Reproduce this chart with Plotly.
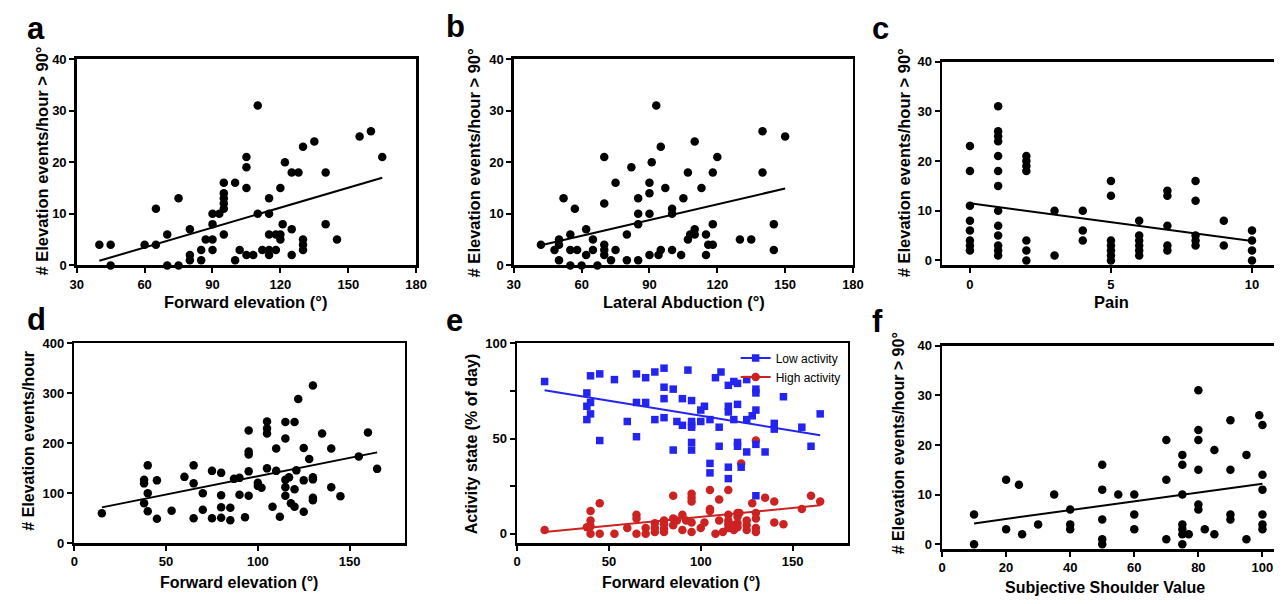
import plotly.graph_objects as go

W, H = 1285, 604

# ---------------- Panel a : Forward elevation vs events > 90 deg ----------------
a_x = [40, 45, 45, 60, 65, 65, 70, 70, 75, 75, 80, 80, 80, 85, 85, 87, 90, 90, 90, 90, 93,
       95, 95, 95, 95, 95, 95, 100, 100, 102, 105, 105, 105, 105, 108, 110, 110, 112,
       115, 115, 115, 115, 115, 118, 118, 120, 120, 120, 121, 122, 125, 128, 125, 125,
       130, 130, 130, 130, 135, 140, 140, 145, 155, 160, 165]
a_y = [4, 4, 0, 4, 4, 11, 6, 0, 13, 0, 7, 2, 1, 3, 1, 5, 10, 8, 5, 3, 10,
       16, 14, 13, 12, 11, 6, 16, 1, 3, 21, 19, 15, 2, 2, 31, 10, 3,
       13, 10, 6, 3, 2, 6, 3, 15, 6, 5, 8, 20, 18, 18, 7, 2,
       23, 5, 4, 3, 24, 18, 8, 5, 25, 26, 21]
a_fit_x = [40, 165]
a_fit_y = [0.9, 17.0]

# ---------------- Panel b : Lateral abduction ----------------
b_x = [42, 48, 50, 50, 50, 52, 55, 55, 55, 57, 58, 60, 62, 62, 65, 65, 67, 70, 70, 70, 70, 70,
       73, 75, 75, 80, 80, 82, 85, 85, 85, 85, 90, 90, 90, 90, 91, 93, 94, 95, 95, 97,
       100, 100, 100, 104, 105, 107, 107, 108, 110, 110, 110, 113, 115, 115, 116, 118,
       118, 118, 120, 130, 135, 140, 140, 145, 145, 150]
b_y = [4, 3, 5, 4, 1, 13, 6, 3, 0, 11, 3, 0, 7, 2, 5, 3, 0, 21, 12, 4, 3, 2,
       1, 16, 3, 6, 1, 19, 13, 10, 8, 1, 16, 14, 10, 2, 20, 31, 2, 23, 3, 15,
       11, 10, 3, 2, 13, 18, 5, 6, 24, 7, 6, 15, 6, 2, 4, 4,
       18, 8, 21, 5, 5, 26, 18, 8, 3, 25]
b_fit_x = [42, 150]
b_fit_y = [3.9, 14.9]

# ---------------- Panel c : Pain ----------------
c_x = [0] * 8 + [1] * 13 + [2] * 7 + [3] * 2 + [4] * 3 + [5] * 7 + [6] * 6 + [7] * 5 + [8] * 5 + [9] * 2 + [10] * 4
c_y = [23, 18, 11, 8, 6, 4, 3, 2,
       31, 26, 25, 24, 21, 18, 15, 10, 7, 5, 3, 2, 1,
       21, 20, 19, 18, 4, 2, 0,
       10, 1,
       10, 6, 4,
       16, 13, 4, 3, 2, 1, 0,
       8, 5, 4, 3, 2, 1,
       14, 13, 7, 3, 2,
       16, 12, 5, 4, 3,
       8, 3,
       6, 4, 2, 0]
c_fit_x = [0, 10]
c_fit_y = [11.5, 3.9]

# ---------------- Panel d : Forward elevation vs all events ----------------
d_x = [15, 38, 38, 38, 40, 40, 40, 45, 45, 53, 60, 65, 65, 65, 70, 70, 75, 75, 80, 80, 80, 80,
       85, 85, 87, 90, 90, 93, 95, 95, 95, 95, 95, 100, 100, 102, 105, 105, 105, 105, 108,
       110, 110, 112, 115, 115, 115, 115, 115, 117, 118, 120, 120, 120, 121, 122, 125, 125,
       125, 128, 130, 130, 130, 130, 130, 135, 140, 140, 145, 155, 160, 165]
d_y = [60, 80, 127, 120, 156, 100, 64, 126, 49, 65, 133, 156, 120, 50, 100, 67, 145, 50, 141, 96, 72, 51,
       71, 46, 129, 131, 97, 52, 226, 184, 178, 144, 95, 121, 115, 111, 244, 230, 220, 150, 73,
       190, 145, 53, 243, 210, 127, 112, 95, 132, 80, 73, 243, 108, 146, 289, 191, 126,
       63, 169, 316, 132, 128, 91, 86, 220, 190, 112, 94, 174, 222, 149]
d_fit_x = [15, 165]
d_fit_y = [72, 182]

# ---------------- Panel e : Activity state ----------------
e_low_x = [15, 38, 38, 38, 40, 40, 40, 45, 45, 53, 60, 65, 65, 65, 70, 70, 75, 75, 80, 80, 80, 80,
           85, 85, 87, 90, 90, 93, 95, 95, 95, 95, 95, 95, 100, 102, 100, 105, 105, 105, 108,
           110, 110, 111, 115, 115, 115, 115, 115, 118, 118, 120, 120, 120, 120, 122, 125, 125,
           125, 128, 130, 130, 130, 130, 130, 135, 140, 140, 145, 155, 160, 165]
e_low_y = [80, 74, 67, 60, 83, 69, 63, 84, 49, 81, 59, 84, 69, 51, 82, 69, 85, 60, 87, 77, 71, 61,
           76, 44, 59, 71, 57, 86, 70, 59, 57, 56, 48, 44, 65, 67, 59, 60, 37, 32, 82,
           56, 46, 85, 78, 67, 64, 35, 29, 80, 60, 79, 68, 48, 46, 35, 81, 60,
           43, 62, 76, 74, 65, 47, 20, 43, 58, 55, 72, 56, 46, 63]
e_high_x = [15, 38, 40, 40, 40, 40, 45, 45, 53, 60, 65, 65, 65, 70, 70, 75, 75, 75, 80, 80, 80, 80,
            85, 85, 85, 87, 90, 90, 92, 95, 95, 95, 95, 95, 100, 102, 105, 105, 105, 108, 110,
            110, 112, 115, 115, 115, 115, 115, 118, 118, 120, 120, 120, 120, 121, 122, 125, 125,
            125, 128, 130, 130, 130, 130, 130, 135, 140, 140, 145, 155, 160, 165]
e_high_y = [2, 3.5, 12, 7, 4, 0, 16, 0, 0, 3, 10, 8, 0, 3, 0, 5.5, 3, 1, 7, 5, 2.5, 1,
            20, 8, 4.5, 7, 10, 2, 7, 21, 19, 17, 6, 1, 3, 6, 23, 13, 12, 0, 18,
            7, 1, 23, 10, 7, 5, 3, 4.5, 2, 11, 9, 5.5, 3.5, 11, 37, 7, 4.5,
            2, 16, 49, 11, 8, 3, 1, 19, 17, 6, 5, 13, 20, 17]
e_low_fit_x = [15, 165]
e_low_fit_y = [75.4, 51.8]
e_high_fit_x = [15, 165]
e_high_fit_y = [1.0, 15.0]

# ---------------- Panel f : Subjective Shoulder Value ----------------
f_x = [10, 10, 20, 20, 24, 25, 30, 35, 40, 40, 40, 50, 50, 50, 50, 50, 55, 60, 60, 60,
       70, 70, 70, 75, 75, 75, 75, 75, 75, 75, 77, 80, 80, 80, 80, 80, 80, 82, 85, 85,
       90, 90, 90, 90, 95, 95, 99, 100, 100, 100, 100, 100, 100]
f_y = [6, 0, 13, 3, 12, 2, 4, 10, 7, 4, 3, 16, 11, 5, 1, 0, 10, 10, 6, 3,
       21, 13, 1, 18, 16, 10, 4, 3, 2, 0, 2, 31, 23, 21, 15, 8, 7, 3, 19, 2,
       25, 15, 6, 5, 18, 1, 26, 24, 14, 11, 6, 4, 3]
f_fit_x = [10, 100]
f_fit_y = [4.2, 12.2]

BLUE = "#2424f0"
RED = "#cc2222"
FONT = "Liberation Sans"


def px_x(p):
    return p / W


def px_y(p):
    return 1 - p / H


fig = go.Figure()

# panel geometry (pixels) and axis settings
panels = {
    1: dict(x0=70.7, x1=415, y0=53.3, y1=265, xr=[30, 180], yr=[0, 40],
            xt=[30, 60, 90, 120, 150, 180], yt=[0, 10, 20, 30, 40], ymirror=True),
    2: dict(x0=514, x1=858, y0=53.3, y1=265, xr=[30, 180], yr=[0, 40],
            xt=[30, 60, 90, 120, 150, 180], yt=[0, 10, 20, 30, 40], ymirror=True),
    3: dict(x0=948.3, x1=1285, y0=56, y1=265, xr=[-0.99, 10.78], yr=[-1, 40],
            xt=[0, 5, 10], yt=[0, 10, 20, 30, 40], ymirror=False),
    4: dict(x0=68.3, x1=403.3, y0=345, y1=550, xr=[0, 180], yr=[0, 400],
            xt=[0, 50, 100, 150], yt=[0, 100, 200, 300, 400], ymirror=True),
    5: dict(x0=517.3, x1=852.7, y0=345, y1=550, xr=[0, 180], yr=[-5, 100],
            xt=[0, 50, 100, 150], yt=[0, 25, 50, 75, 100], ymirror=True),
    6: dict(x0=948.3, x1=1285, y0=347.3, y1=556, xr=[0, 103.6], yr=[-1, 40],
            xt=[0, 20, 40, 60, 80, 100], yt=[0, 10, 20, 30, 40], ymirror=False),
}

tickfont = dict(family=FONT, size=13, color="black", weight="bold")
layout_axes = {}
for i, p in panels.items():
    xn = "xaxis" if i == 1 else f"xaxis{i}"
    yn = "yaxis" if i == 1 else f"yaxis{i}"
    ytext = [str(v) for v in p["yt"]]
    if i == 5:
        ytext = ["0", "", "50", "", "100"]
    layout_axes[xn] = dict(
        domain=[px_x(p["x0"]), min(1.0, px_x(p["x1"]))], range=p["xr"],
        anchor=f"y{'' if i == 1 else i}", showline=True, linecolor="black", linewidth=2.5,
        mirror=True, ticks="outside", ticklen=5, tickwidth=2, tickcolor="black",
        tickvals=p["xt"], showgrid=False, zeroline=False, tickfont=tickfont,
    )
    layout_axes[yn] = dict(
        domain=[px_y(p["y1"]), px_y(p["y0"])], range=p["yr"],
        anchor=f"x{'' if i == 1 else i}", showline=True, linecolor="black", linewidth=2.5,
        mirror=p["ymirror"], ticks="outside", ticklen=5, tickwidth=2, tickcolor="black",
        tickvals=p["yt"], ticktext=ytext, showgrid=False, zeroline=False, tickfont=tickfont,
    )


def ax(i):
    return ("x" if i == 1 else f"x{i}"), ("y" if i == 1 else f"y{i}")


def add_scatter(i, xs, ys, color="black", symbol="circle", size=8.5):
    xa, ya = ax(i)
    fig.add_trace(go.Scatter(x=xs, y=ys, mode="markers", xaxis=xa, yaxis=ya,
                             marker=dict(color=color, size=size, symbol=symbol, line=dict(width=0)),
                             showlegend=False, cliponaxis=False, hoverinfo="skip"))


def add_line(i, xs, ys, color="black"):
    xa, ya = ax(i)
    fig.add_trace(go.Scatter(x=xs, y=ys, mode="lines", xaxis=xa, yaxis=ya,
                             line=dict(color=color, width=2), showlegend=False, hoverinfo="skip"))


add_scatter(1, a_x, a_y); add_line(1, a_fit_x, a_fit_y)
add_scatter(2, b_x, b_y); add_line(2, b_fit_x, b_fit_y)
add_scatter(3, c_x, c_y); add_line(3, c_fit_x, c_fit_y)
add_scatter(4, d_x, d_y); add_line(4, d_fit_x, d_fit_y)
add_scatter(5, e_high_x, e_high_y, color=RED, symbol="circle", size=8.5)
add_scatter(5, e_low_x, e_low_y, color=BLUE, symbol="square", size=7.5)
add_line(5, e_high_fit_x, e_high_fit_y, color=RED)
add_line(5, e_low_fit_x, e_low_fit_y, color=BLUE)
add_scatter(6, f_x, f_y); add_line(6, f_fit_x, f_fit_y)

# legend entries for panel e
fig.add_trace(go.Scatter(x=[None], y=[None], mode="lines+markers", name="Low activity",
                         xaxis="x5", yaxis="y5", legendrank=1,
                         line=dict(color=BLUE, width=2), marker=dict(color=BLUE, symbol="square", size=7.5)))
fig.add_trace(go.Scatter(x=[None], y=[None], mode="lines+markers", name="High activity",
                         xaxis="x5", yaxis="y5", legendrank=2,
                         line=dict(color=RED, width=2), marker=dict(color=RED, symbol="circle", size=8.5)))

annotations = []


def text(xc, yc, s, size=16, angle=0, weight="bold", xanchor="center"):
    annotations.append(dict(x=px_x(xc), y=px_y(yc), xref="paper", yref="paper", text=s,
                            showarrow=False, textangle=angle, xanchor=xanchor, yanchor="middle",
                            font=dict(family=FONT, size=size, color="black", weight=weight)))


# panel letters
for letter, (lx, ly) in {"a": (18, 22), "b": (443, 20), "c": (875, 22),
                         "d": (18, 320), "e": (443, 321), "f": (875, 322)}.items():
    text(lx, ly, letter, size=31, xanchor="left")

# axis titles
yt90 = "# Elevation events/hour &gt; 90°"
text(36, 158, yt90, size=16.5, angle=-90)
text(242, 303, "Forward elevation (°)", size=16.5)
text(474, 160, yt90, size=16.5, angle=-90)
text(687, 303, "Lateral Abduction (°)", size=16.5)
text(910, 160, yt90, size=16.5, angle=-90)
text(1120, 303, "Pain", size=16.5)
text(22, 445, "# Elevation events/hour", size=16, angle=-90)
text(235, 590, "Forward elevation (°)", size=16)
text(471, 448, "Activity state (% of day)", size=16, angle=-90)
text(684, 590, "Forward elevation (°)", size=16)
text(905, 447, yt90, size=16, angle=-90)
text(1114, 595, "Subjective Shoulder Value", size=16)

fig.update_layout(
    width=W, height=H, autosize=False,
    margin=dict(l=0, r=0, t=0, b=0),
    paper_bgcolor="white", plot_bgcolor="white",
    annotations=annotations,
    showlegend=True,
    hovermode=False,
    legend=dict(x=px_x(739), y=px_y(345), xanchor="left", yanchor="top",
                bgcolor="rgba(0,0,0,0)", font=dict(family=FONT, size=12, color="black"),
                tracegroupgap=0, itemsizing="trace"),
    **layout_axes,
)

# place the figure at the page origin (no default body margin), no modebar
fig.write_html("out.html", config={"displayModeBar": False, "staticPlot": True},
               post_script="document.body.style.margin='0';document.body.style.overflow='hidden';")
